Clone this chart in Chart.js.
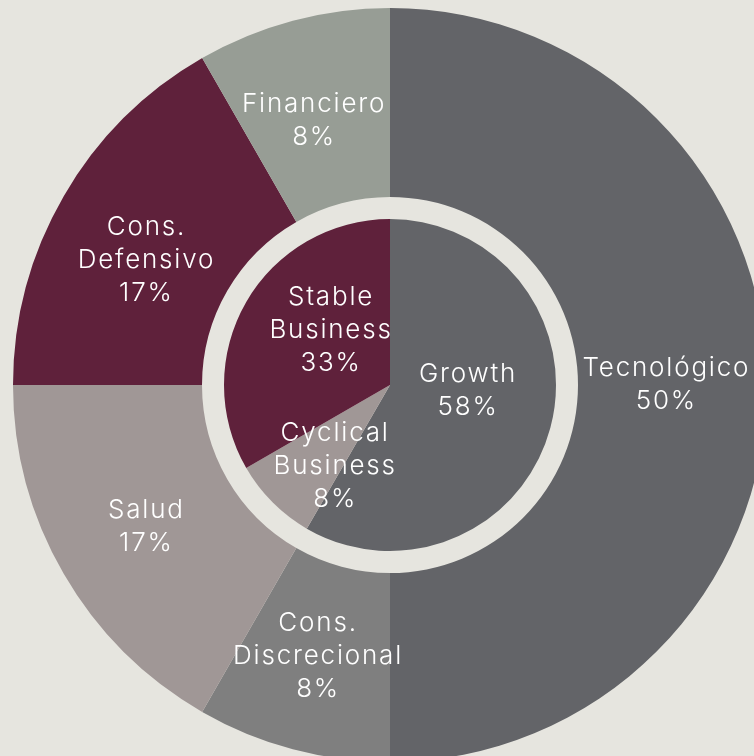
<!DOCTYPE html>
<html>
<head>
<meta charset="utf-8">
<script src="https://cdn.jsdelivr.net/npm/chart.js@4.4.1/dist/chart.umd.min.js"></script>
<style>
  html, body { margin: 0; padding: 0; width: 754px; height: 756px; overflow: hidden; background: #e6e5df; }
  #wrap { position: absolute; left: 0; top: -5px; width: 780px; height: 780px; }
</style>
</head>
<body>
<div id="wrap"><canvas id="myChart" width="780" height="780"></canvas></div>
<script>
// outer ring: sectors
const sectorLabels = ["Tecnológico", "Cons.\nDiscrecional", "Salud", "Cons.\nDefensivo", "Financiero"];
const sectorValues = [50, 8.3, 16.7, 16.7, 8.3];
// inner pie: business style
const styleLabels = ["Growth", "Cyclical\nBusiness", "Stable\nBusiness"];
const styleValues = [58.3, 8.3, 33.3];

const colors = {
  dark: "#636468",
  grey: "#7f7f7f",
  mauve: "#a09796",
  wine: "#5f213b",
  sage: "#979d95",
};

// writes "name / NN%" in the middle of each slice
const sliceLabels = {
  id: "sliceLabels",
  afterDatasetsDraw(chart, args, opts) {
    const ctx = chart.ctx;
    ctx.save();
    ctx.fillStyle = opts.color;
    ctx.font = opts.font;
    ctx.letterSpacing = opts.spacing + "px";
    ctx.textAlign = "center";
    ctx.textBaseline = "middle";
    chart.data.datasets.forEach((ds, di) => {
      if (!ds.names) return;
      const meta = chart.getDatasetMeta(di);
      meta.data.forEach((arc, i) => {
        const p = arc.tooltipPosition(true);
        const nudge = opts.nudge[ds.key][i];
        const lines = ds.names[i].split("\n").concat(Math.round(ds.data[i]) + "%");
        const top = p.y + nudge[1] - ((lines.length - 1) * opts.lineHeight) / 2;
        // letterSpacing leaves a trailing gap, shift back by half of it
        const x = p.x + nudge[0] + opts.spacing / 2;
        lines.forEach((t, k) => ctx.fillText(t, x, top + k * opts.lineHeight));
      });
    });
    ctx.restore();
  },
};

const makeGraph = () => {
  const chart_ctx = document.getElementById("myChart");
  const data = {
    datasets: [
      {
        key: "sectors",
        names: sectorLabels,
        data: sectorValues,
        backgroundColor: [colors.dark, colors.grey, colors.mauve, colors.wine, colors.sage],
        weight: 189,
      },
      {
        // empty band between the two rings
        data: [1],
        backgroundColor: ["rgba(0,0,0,0)"],
        weight: 22,
      },
      {
        key: "styles",
        names: styleLabels,
        data: styleValues,
        backgroundColor: [colors.dark, colors.mauve, colors.wine],
        weight: 166,
      },
    ],
  };
  const config = {
    type: "doughnut",
    data,
    options: {
      responsive: false,
      animation: false,
      cutout: 0,
      radius: 377,
      borderWidth: 0,
      hoverOffset: 0,
      layout: { padding: 0 },
      events: [],
      plugins: {
        legend: { display: false },
        tooltip: { enabled: false },
        sliceLabels: {
          color: "#ffffff",
          font: "300 26px Inter",
          spacing: 1.8,
          lineHeight: 33,
          nudge: {
            sectors: [[-7, 0], [0, -2], [0, 0], [0, 17], [-4, 9]],
            styles: [[-3, -16], [3, 23], [12, -13]],
          },
        },
      },
    },
    plugins: [sliceLabels],
  };
  return new Chart(chart_ctx, config);
};

makeGraph();
</script>
</body>
</html>
